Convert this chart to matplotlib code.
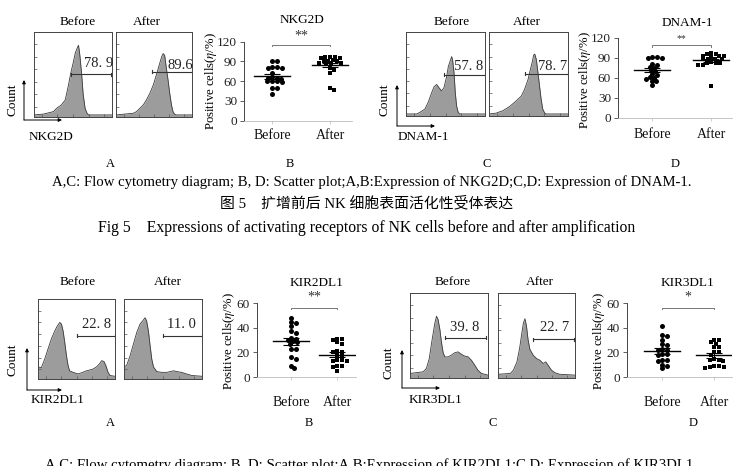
import matplotlib.pyplot as plt
import numpy as np

plt.rcParams['font.family'] = ['Liberation Serif', 'Noto Sans CJK SC']
plt.rcParams['mathtext.fontset'] = 'stix'

# ---- histogram data (channel %, relative count %) ----
nkg2d_b_x = [0, 12, 25, 29, 35, 40, 44, 47, 50, 53, 56, 57, 58, 59, 61, 63, 65.5, 68, 70, 100]
nkg2d_b_y = [0, 1, 4, 8, 12, 18, 35, 50, 62, 75, 82, 84, 78, 70, 50, 25, 8, 2, 0, 0]
nkg2d_a_x = [0, 22.7, 27, 31.4, 35.8, 40, 44.5, 49, 53, 56.8, 60, 62, 64, 66, 68.5, 70.7, 73, 75, 77, 79.5, 100]
nkg2d_a_y = [0, 2, 4, 8, 12, 18, 26, 36, 48, 60, 70, 74, 72, 58, 42, 26, 12, 4, 1, 0, 0]
dnam_b_x = [0, 13.5, 17.7, 24, 28, 32.5, 35.4, 38.8, 41.8, 45, 48, 51.5, 53.6, 55.7, 57.8, 59, 60.8, 62.4, 64, 66, 68, 100]
dnam_b_y = [0, 0, 2, 6, 14, 26, 33, 36, 32, 28, 32, 46, 58, 64, 70, 66, 50, 26, 10, 2, 0, 0]
dnam_a_x = [0, 9, 17.7, 26, 34.6, 41, 45, 49.4, 52.3, 54.9, 56.5, 58, 60, 62, 64, 66, 68, 70.5, 72.6, 100]
dnam_a_y = [0, 1, 4, 9, 16, 22, 30, 42, 54, 64, 72, 73, 66, 50, 34, 18, 6, 1, 0, 0]
kir2_b_x = [0, 4.3, 8.7, 13, 17.4, 21.7, 24.8, 28.3, 30.4, 32.6, 34.8, 37, 39, 41, 45.6, 52, 58, 63, 67, 71, 76, 80, 82.6, 85.6, 88, 91, 93.5, 100]
kir2_b_y = [13, 12, 23, 36, 49, 59, 65, 70, 68, 59, 44, 27, 15, 8, 6, 4, 6, 8, 9, 10, 13, 17, 21, 20, 15, 6, 2, 1]
kir2_a_x = [0, 3.4, 7.7, 12, 16.3, 20.6, 24, 27, 29, 31.3, 33.5, 35.6, 37.8, 42, 48.5, 55, 59, 63.5, 67.8, 74, 80, 87, 100]
kir2_a_y = [13, 15, 27, 42, 57, 68, 72, 76, 72, 59, 40, 23, 13, 7, 6, 6, 7, 8, 7, 6, 4, 2, 1]
kir3_b_x = [0, 17, 21, 24.7, 27.7, 29.8, 31.9, 34, 36, 38.3, 40.4, 42.5, 44.7, 49, 53, 57.4, 61.7, 66, 70, 74.5, 78.7, 83, 87, 91.5, 100]
kir3_b_y = [3, 5, 9, 21, 40, 52, 64, 72, 68, 56, 40, 28, 23, 23, 25, 28, 29, 26, 24, 23, 19, 13, 7, 3, 1]
kir3_a_x = [0, 16, 20, 24.6, 28, 31, 33, 35, 37, 39, 41.4, 45.7, 50, 54.3, 58.6, 62, 65, 69.4, 73.7, 80, 100]
kir3_a_y = [2, 3, 7, 17, 33, 52, 64, 69, 60, 44, 32, 25, 21, 19, 15, 17, 13, 7, 4, 2, 1]

gate_labels = ['78. 9', '89.6', '57. 8', '78. 7', '22. 8', '11. 0', '39. 8', '22. 7']

# ---- scatter data (positive cells %) ----
groups = ['Before', 'After']
nkg2d_before = [91, 91, 81, 81, 80, 80, 72, 66, 65, 65, 64, 60, 60, 60, 59, 50, 49, 40]
nkg2d_after = [96, 96, 96, 95, 95, 92, 91, 91, 90, 88, 88, 87, 86, 80, 77, 72, 50, 47]
dnam_before = [91, 90, 90, 91, 81, 80, 77, 75, 72, 70, 66, 64, 62, 60, 59, 56, 55, 50]
dnam_after = [96, 97, 96, 93, 93, 92, 93, 89, 89, 88, 89, 84, 83, 83, 82, 80, 80, 48]
kir2_before = [48, 45, 44, 41, 37, 36, 32, 31, 30, 29, 28, 27, 23, 23, 16, 15, 9, 7]
kir2_after = [31, 31, 30, 28, 27, 21, 20, 20, 18, 17, 14, 14, 13, 13, 9, 9, 8, 5]
kir3_before = [41, 34, 33, 30, 27, 26, 23, 22, 22, 19, 19, 18, 14, 14, 13, 10, 9, 7]
kir3_after = [30, 30, 28, 27, 24, 24, 20, 20, 18, 15, 14, 14, 13, 9, 9, 8, 8, 7]

W, H = 739, 466
fig = plt.figure(figsize=(W / 100, H / 100), dpi=100, facecolor='white')

ov = fig.add_axes([0, 0, 1, 1])
ov.set_xlim(0, W)
ov.set_ylim(H, 0)
ov.axis('off')


def box(x0, y0, x1, y1):
    return [x0 / W, 1 - y1 / H, (x1 - x0) / W, (y1 - y0) / H]


def hist_panel(rect, xs, ys, gy, gx0, gx1, label, lx, ly):
    ax = fig.add_axes(box(*rect))
    ax.fill_between(xs, ys, -3, color='#9c9c9c', lw=0)
    ax.plot(xs, ys, color='#3a3a3a', lw=0.6)
    ax.plot([gx0, gx1], [gy, gy], color='#333333', lw=0.8)
    for gx in (gx0, gx1):
        ax.plot([gx, gx], [gy - 2, gy + 2], color='#333333', lw=0.8)
    ax.text(lx, ly, label, ha='center', va='center', fontsize=10.5, color='#222222')
    ax.set_xlim(0, 100)
    ax.set_ylim(-2.5, 100)
    ax.set_xticks(np.arange(10, 100, 20))
    ax.set_yticks(np.arange(10, 100, 15))
    ax.tick_params(direction='in', length=2, width=0.5, color='#555555',
                   labelbottom=False, labelleft=False)
    for s in ax.spines.values():
        s.set_linewidth(0.7)
        s.set_color('#444444')
    return ax


def swarm(vals, center, sx, sy, d=4.6, wy=1.5):
    # simple beeswarm in pixel space, rows allowed to sit a bit closer vertically
    xs = np.zeros(len(vals))
    placed = []
    for i in np.argsort(vals)[::-1]:
        y = vals[i] * sy
        for k in range(400):
            off = ((k + 1) // 2) * 0.5 * (1 if k % 2 else -1)
            if all((off - px) ** 2 + (wy * (y - py)) ** 2 >= d * d for px, py in placed):
                break
        placed.append((off, y))
        xs[i] = center + off / sx
    return xs


def scatter_panel(x0, x1, ytop, ybot, c0, c1, before, after, ymax, yticks,
                  sig_y, star_y, stars, star_size, pad):
    ax = fig.add_axes(box(x0, ytop, x1, ybot))
    s = c1 - c0
    ax.set_xlim(-(c0 - x0) / s, (x1 - c0) / s)
    ax.set_ylim(0, ymax)
    sy = (ybot - ytop) / ymax
    for i, (vals, mk) in enumerate([(before, 'o'), (after, 's')]):
        vals = np.array(vals, dtype=float)
        xs = swarm(vals, i, s, sy)
        ax.plot(xs, vals, mk, color='black', ms=3.6 if mk == 'o' else 3.3, mew=0, clip_on=False)
        m = vals.mean()
        se = vals.std(ddof=1) / np.sqrt(len(vals))
        ax.plot([i - 18 / s, i + 18 / s], [m, m], color='black', lw=1.0)
        ax.errorbar(i, m, yerr=se, color='black', lw=0.8, capsize=6, capthick=0.8)
    ax.plot([0, 0, 1, 1], [sig_y - ymax * 0.02, sig_y, sig_y, sig_y - ymax * 0.02],
            color='#777777', lw=0.7, clip_on=False)
    ax.text(0.5, star_y, stars, ha='center', va='center', fontsize=star_size,
            color='#333333', clip_on=False)
    ax.set_yticks(yticks)
    ax.set_xticks([0, 1])
    ax.set_xticklabels(groups)
    ax.tick_params(axis='y', length=3, width=0.6, color='#444444', labelsize=9.5,
                   labelcolor='#222222', pad=2)
    ax.tick_params(axis='x', length=2, width=0.5, color='#bbbbbb', labelsize=10,
                   labelcolor='#111111', pad=pad)
    ax.spines['top'].set_visible(False)
    ax.spines['right'].set_visible(False)
    ax.spines['left'].set_linewidth(0.7)
    ax.spines['left'].set_color('#444444')
    ax.spines['bottom'].set_linewidth(0.6)
    ax.spines['bottom'].set_color('#bbbbbb')
    return ax


# ---- top row ----
hist_panel((34, 32, 112, 117), nkg2d_b_x, nkg2d_b_y, 49, 47.4, 99, gate_labels[0], 83, 62)
hist_panel((116, 32, 192, 117), nkg2d_a_x, nkg2d_a_y, 52, 47.6, 100, gate_labels[1], 85, 60)
hist_panel((406, 32, 485, 116), dnam_b_x, dnam_b_y, 48, 48, 100, gate_labels[2], 79, 58)
hist_panel((489, 32, 568, 116), dnam_a_x, dnam_a_y, 49, 46, 100, gate_labels[3], 81, 58)
scatter_panel(244, 352, 41.7, 120.7, 272, 330, nkg2d_before, nkg2d_after, 120,
              [0, 30, 60, 90, 120], 115.7, 128.5, '**', 10, 4)
scatter_panel(618, 732, 38, 118, 652, 711, dnam_before, dnam_after, 120,
              [0, 30, 60, 90, 120], 109.5, 118.5, '**', 7, 5)

# ---- bottom row ----
hist_panel((38, 299, 115, 379), kir2_b_x, kir2_b_y, 53, 51, 100, gate_labels[4], 76, 67)
hist_panel((124, 299, 202, 379), kir2_a_x, kir2_a_y, 53, 50.6, 100, gate_labels[5], 74, 67)
hist_panel((410, 293, 488, 378), kir3_b_x, kir3_b_y, 46, 44.7, 98, gate_labels[6], 70, 58)
hist_panel((498, 293, 575, 378), kir3_a_x, kir3_a_y, 44, 45, 99, gate_labels[7], 74, 58)
scatter_panel(257, 356, 303, 377, 291, 337, kir2_before, kir2_after, 60,
              [0, 20, 40, 60], 56, 65, '**', 10, 12)
scatter_panel(627, 732, 303, 377, 662, 714, kir3_before, kir3_after, 60,
              [0, 20, 40, 60], 56, 64.5, '*', 10, 12)

# ---- free text ----
fs = 9.5
for x, y, t in [(78, 22, 'Before'), (147, 22, 'After'), (452, 22, 'Before'), (527, 22, 'After'),
                (78, 282, 'Before'), (168, 282, 'After'), (453, 282, 'Before'), (540, 282, 'After'),
                (302, 20, 'NKG2D'), (687, 23, 'DNAM-1'), (317, 283, 'KIR2DL1'), (687, 283, 'KIR3DL1'),
                (51, 137, 'NKG2D'), (423, 137, 'DNAM-1'), (58, 400, 'KIR2DL1'), (435, 400, 'KIR3DL1')]:
    ov.text(x, y, t, ha='center', va='center', fontsize=fs)

for x, y in [(12, 100), (385, 100), (13, 360), (388, 363)]:
    ov.text(x, y, 'Count', ha='center', va='center', rotation=90, fontsize=fs)

ylab = r'Positive cells($\eta$/%)'
for x, y in [(211, 81), (585, 80), (229, 341), (599, 341)]:
    ov.text(x, y, ylab, ha='center', va='center', rotation=90, fontsize=9.2)

for ox, oy, top, right in [(24, 120, 80, 62), (397, 126, 85, 435), (27, 390, 348, 62), (402, 388, 350, 440)]:
    arrow = dict(arrowstyle='-|>', lw=0.7, color='black', mutation_scale=5, shrinkA=0, shrinkB=0)
    ov.annotate('', xy=(ox, top), xytext=(ox, oy), arrowprops=arrow)
    ov.annotate('', xy=(right, oy), xytext=(ox, oy), arrowprops=arrow)

for x, t in [(110, 'A'), (290, 'B'), (487, 'C'), (675, 'D')]:
    ov.text(x, 164, t, ha='center', va='center', fontsize=9)
for x, t in [(110, 'A'), (309, 'B'), (493, 'C'), (693, 'D')]:
    ov.text(x, 423, t, ha='center', va='center', fontsize=9)

ov.text(52, 182, 'A,C: Flow cytometry diagram; B, D: Scatter plot;A,B:Expression of NKG2D;'
        'C,D: Expression of DNAM-1.', ha='left', va='center', fontsize=10.6)
ov.text(220, 203, '图 5    扩增前后 NK 细胞表面活化性受体表达', ha='left', va='center', fontsize=10.7)
ov.text(98, 228, 'Fig 5    Expressions of activating receptors of NK cells before and after amplification',
        ha='left', va='center', fontsize=11.3)
ov.text(45, 465, 'A,C: Flow cytometry diagram; B, D: Scatter plot;A,B:Expression of KIR2DL1;'
        'C,D: Expression of KIR3DL1.', ha='left', va='center', fontsize=10.6)

fig.savefig('out.png', dpi=100, facecolor='white')
